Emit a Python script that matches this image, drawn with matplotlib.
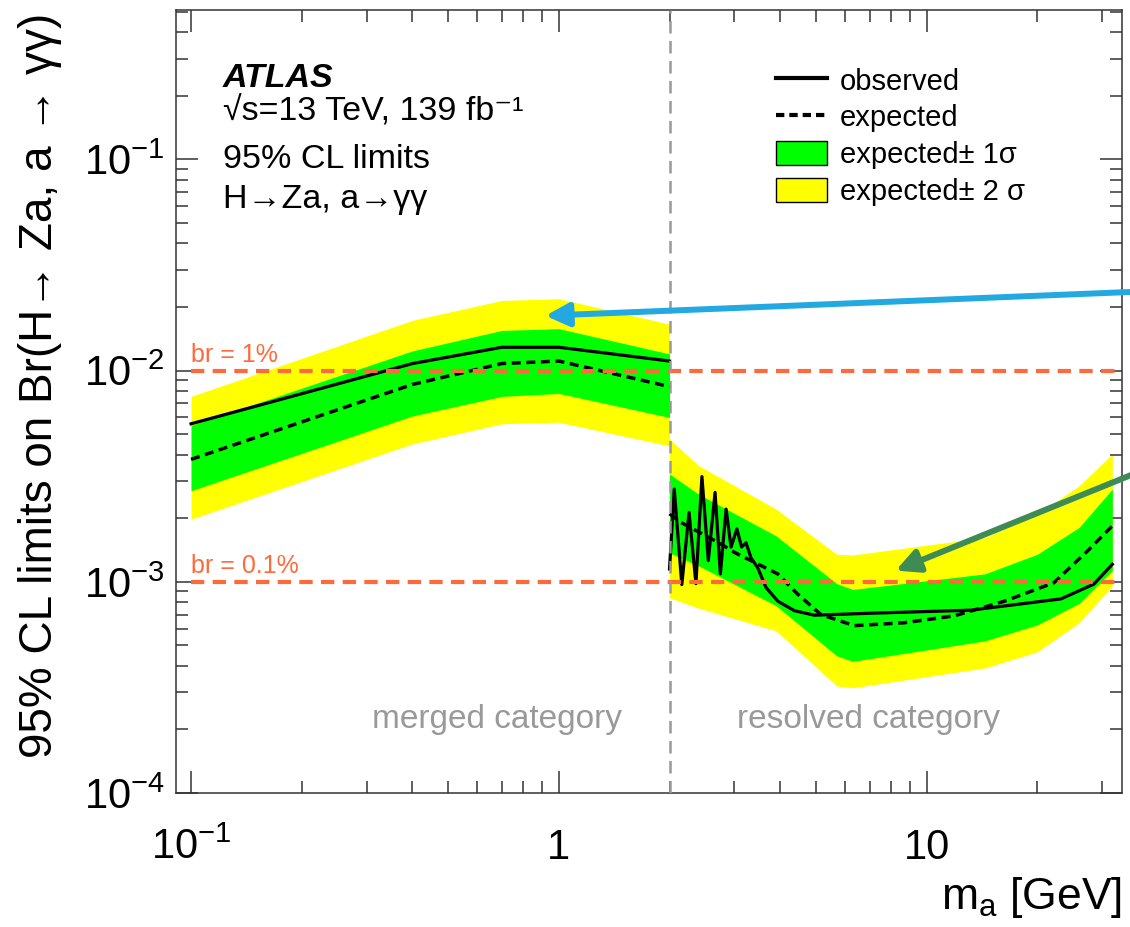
import matplotlib
matplotlib.use("Agg")
import matplotlib.pyplot as plt
from matplotlib.lines import Line2D
from matplotlib.patches import Patch
from matplotlib.ticker import NullFormatter
import numpy as np

# merged category (m_a < 2 GeV)
merged_mass = [0.1, 0.4, 0.7, 1.0, 2.0]
merged_obs = [5.6e-3, 1.08e-2, 1.29e-2, 1.29e-2, 1.11e-2]
merged_exp = [3.8e-3, 8.6e-3, 1.08e-2, 1.11e-2, 8.4e-3]
merged_1s_lo = [2.7e-3, 6.1e-3, 7.55e-3, 7.8e-3, 6.0e-3]
merged_1s_hi = [5.5e-3, 1.24e-2, 1.55e-2, 1.58e-2, 1.20e-2]
merged_2s_lo = [1.98e-3, 4.5e-3, 5.6e-3, 5.7e-3, 4.4e-3]
merged_2s_hi = [7.55e-3, 1.73e-2, 2.15e-2, 2.19e-2, 1.66e-2]

# resolved category (m_a > 2 GeV)
res_obs_mass = [2.0, 2.06, 2.16, 2.26, 2.36, 2.45, 2.55, 2.66, 2.75, 2.85, 2.94,
                3.05, 3.14, 3.23, 3.33, 3.47, 3.66, 3.94, 4.37, 4.95, 7.06,
                13.2, 23.2, 28.5, 32.0]
res_obs = [1.15e-3, 2.75e-3, 0.97e-3, 2.13e-3, 0.98e-3, 3.15e-3, 1.26e-3, 2.65e-3,
           1.09e-3, 2.21e-3, 1.46e-3, 1.78e-3, 1.46e-3, 1.53e-3, 1.30e-3, 1.17e-3,
           0.94e-3, 0.81e-3, 0.73e-3, 0.695e-3, 0.71e-3, 0.734e-3, 0.83e-3,
           0.975e-3, 1.21e-3]
res_exp_mass = [2.0, 2.15, 2.76, 3.0, 3.33, 3.94, 4.46, 5.16, 6.36, 8.7, 11.9,
                16.3, 22.2, 27.4, 32.0]
res_exp = [2.1e-3, 1.91e-3, 1.51e-3, 1.38e-3, 1.26e-3, 1.09e-3, 0.875e-3, 0.70e-3,
           0.62e-3, 0.64e-3, 0.69e-3, 0.81e-3, 0.99e-3, 1.40e-3, 1.84e-3]
res_band_mass = [2.0, 2.4, 3.9, 5.7, 6.3, 14.4, 20.0, 26.0, 32.0]
res_1s_hi = [3.24e-3, 2.6e-3, 1.65e-3, 0.98e-3, 0.92e-3, 1.09e-3, 1.35e-3, 1.81e-3, 2.75e-3]
res_1s_lo = [1.37e-3, 1.19e-3, 0.77e-3, 0.446e-3, 0.42e-3, 0.525e-3, 0.625e-3, 0.79e-3, 1.13e-3]
res_2s_hi = [4.74e-3, 3.55e-3, 2.21e-3, 1.35e-3, 1.34e-3, 1.62e-3, 2.09e-3, 2.85e-3, 4.03e-3]
res_2s_lo = [0.84e-3, 0.75e-3, 0.586e-3, 0.321e-3, 0.315e-3, 0.391e-3, 0.466e-3, 0.64e-3, 0.957e-3]

category_split = 2.0
br_levels = [1e-2, 1e-3]
br_labels = ["br = 1%", "br = 0.1%"]
xtick_vals = [0.1, 1, 10]
xtick_labels = [r"$10^{-1}$", "1", "10"]

plt.rcParams.update({
    'font.family': ['Liberation Sans', 'DejaVu Sans'],
    'mathtext.fontset': 'custom',
    'mathtext.rm': 'Liberation Sans',
    'mathtext.it': 'Liberation Sans:italic',
    'mathtext.bf': 'Liberation Sans:bold',
    'axes.linewidth': 1.1,
    'axes.edgecolor': '#333333',
})

fig = plt.figure(figsize=(11.3, 9.27), dpi=100)
ax = fig.add_axes([176 / 1130, 1 - 793 / 927, 946 / 1130, 783 / 927])
ax.set_xscale('log')
ax.set_yscale('log')

green = '#00ff00'
yellow = '#ffff00'

# bands
ax.fill_between(merged_mass, merged_2s_lo, merged_2s_hi, color=yellow, lw=0, zorder=1)
ax.fill_between(merged_mass, merged_1s_lo, merged_1s_hi, color=green, lw=0, zorder=2)
ax.fill_between(res_band_mass, res_2s_lo, res_2s_hi, color=yellow, lw=0, zorder=1)
ax.fill_between(res_band_mass, res_1s_lo, res_1s_hi, color=green, lw=0, zorder=2)

# limits
dash = (0, (2.6, 1.6))
ax.plot(merged_mass, merged_exp, color='black', lw=2.5, ls=dash, zorder=3)
ax.plot(res_exp_mass, res_exp, color='black', lw=2.5, ls=dash, zorder=3)
ax.plot(merged_mass, merged_obs, color='black', lw=2.3, zorder=3)
ax.plot(res_obs_mass, res_obs, color='black', lw=2.3, zorder=3)

ax.set_xlim(0.091, 34)
ax.set_ylim(1e-4, 0.51)

# reference lines
orange = '#ff6a3c'
for lvl, lab in zip(br_levels, br_labels):
    ax.hlines(lvl, merged_mass[0], ax.get_xlim()[1], color=orange, lw=3,
              linestyles=(0, (3.2, 2.0)), zorder=4)
    ax.annotate(lab, (merged_mass[0], lvl), xytext=(0, 6), textcoords='offset points',
                color=orange, fontsize=18, ha='left', va='baseline')
ax.axvline(category_split, color='#999999', lw=1.8, ls=(0, (5, 3)), zorder=5)

ax.text(0.339, 0.083, "merged category", transform=ax.transAxes, color='#999999',
        fontsize=24, ha='center', va='baseline')
ax.text(0.732, 0.083, "resolved category", transform=ax.transAxes, color='#999999',
        fontsize=24, ha='center', va='baseline')

# ATLAS labels
ax.text(0.0497, 0.9016, "ATLAS", transform=ax.transAxes, fontsize=24.5,
        fontweight='bold', style='italic', va='baseline')
ax.text(0.0497, 0.8583, "√s=13 TeV, 139 fb⁻¹", transform=ax.transAxes,
        fontsize=24.5, va='baseline')
ax.text(0.0497, 0.798, "95% CL limits", transform=ax.transAxes, fontsize=24.5, va='baseline')
ax.text(0.0497, 0.747, "H→Za, a→γγ", transform=ax.transAxes, fontsize=24.5, va='baseline')

# legend
handles = [
    Line2D([], [], color='black', lw=3),
    Line2D([], [], color='black', lw=3, ls=(0, (2, 1.2))),
    Patch(facecolor=green, edgecolor='black', lw=1),
    Patch(facecolor=yellow, edgecolor='black', lw=1),
]
labels = ["observed", "expected", "expected± 1σ", "expected± 2 σ"]
ax.legend(handles, labels, loc='upper left', bbox_to_anchor=(0.622, 0.9416),
          frameon=False, fontsize=21, handlelength=1.75, handleheight=0.9,
          handletextpad=0.45, labelspacing=0.3, borderaxespad=0)

# axes / ticks
ax.set_xticks(xtick_vals, labels=xtick_labels)
ax.xaxis.set_minor_formatter(NullFormatter())
ax.yaxis.set_minor_formatter(NullFormatter())
ax.tick_params(which='both', direction='in', top=True, right=True, color='#333333',
               width=1.1)
ax.tick_params(which='major', length=16)
ax.tick_params(which='minor', length=8.5)
ax.tick_params(axis='x', which='major', labelsize=30, pad=25)
ax.tick_params(axis='y', which='major', labelsize=30, pad=8)

ax.set_ylabel("95% CL limits on Br(H→ Za, a → γγ)", fontsize=33, loc='top')
ax.yaxis.set_label_coords(-0.12, 0.997)
ax.set_xlabel(r"m$_{\mathrm{a}}$ [GeV]", fontsize=32, loc='right')
ax.xaxis.set_label_coords(1.0, -0.105)

# annotation arrows
ax.annotate('', xy=(0.92, 1.82e-2), xycoords='data', xytext=(1.02, 0.686),
            textcoords='figure fraction', annotation_clip=False,
            arrowprops=dict(arrowstyle='-|>,head_length=0.7,head_width=0.35',
                            color='#22a9e1', lw=4.3, shrinkA=0, shrinkB=0,
                            mutation_scale=20), zorder=10)
ax.annotate('', xy=(8.24, 1.13e-3), xycoords='data', xytext=(1.02, 0.497),
            textcoords='figure fraction', annotation_clip=False,
            arrowprops=dict(arrowstyle='-|>,head_length=0.7,head_width=0.35',
                            color='#3e8b55', lw=4.3, shrinkA=0, shrinkB=0,
                            mutation_scale=20), zorder=10)

fig.savefig("out.png", dpi=100)
plt.close()
